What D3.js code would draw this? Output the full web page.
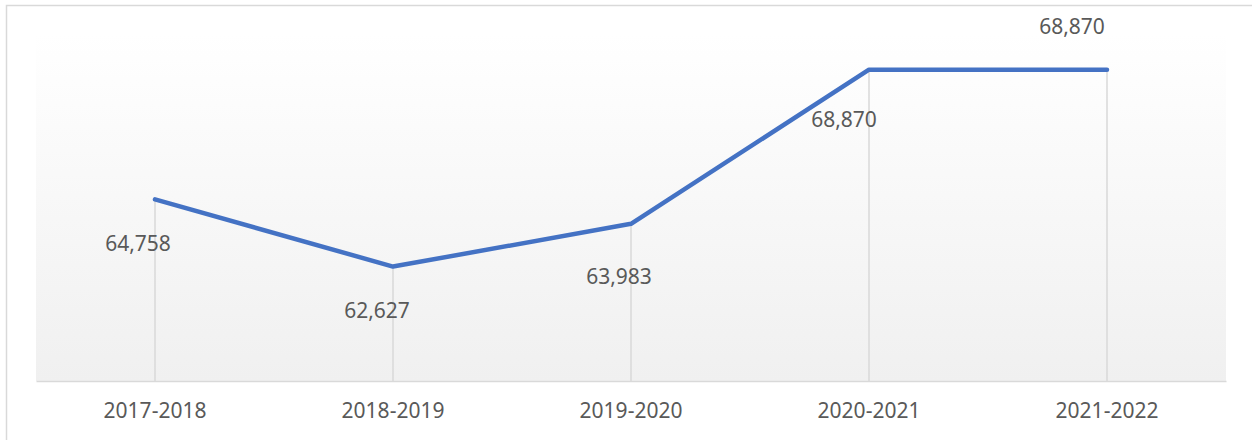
<!DOCTYPE html>
<html>
<head>
<meta charset="utf-8">
<script src="https://cdn.jsdelivr.net/npm/d3@7"></script>
<style>
  body { margin: 0; background: #fff; }
  svg { display: block; }
</style>
</head>
<body>
<svg id="chart"></svg>
<script>
// Data
const years = ["2017-2018", "2018-2019", "2019-2020", "2020-2021", "2021-2022"];
const counts = [64758, 62627, 63983, 68870, 68870];
const yDomain = [59000, 70000];

// Label offsets (px) relative to each point
const labelDx = [-17, -16, -12, -25, -35];
const labelDy = [44, 44, 53, 50, -43];

const width = 1252, height = 440;
const margin = { top: 34, right: 26, bottom: 59, left: 36 };

const svg = d3.select("#chart")
  .attr("width", width)
  .attr("height", height);

// Outer chart border
svg.append("rect")
  .attr("x", 6.5).attr("y", 5.5)
  .attr("width", width + 10).attr("height", height + 10)
  .attr("fill", "none")
  .attr("stroke", "#d9d9d9")
  .attr("stroke-width", 1.5);

// Gradient for plot area
const defs = svg.append("defs");
const grad = defs.append("linearGradient")
  .attr("id", "plotGrad")
  .attr("x1", 0).attr("y1", 0).attr("x2", 0).attr("y2", 1);
grad.append("stop").attr("offset", "0%").attr("stop-color", "#ffffff");
grad.append("stop").attr("offset", "100%").attr("stop-color", "#f0f0f0");

const x = d3.scaleBand()
  .domain(years)
  .range([margin.left, width - margin.right]);

const y = d3.scaleLinear()
  .domain(yDomain)
  .range([height - margin.bottom, margin.top]);

const cx = d => x(d) + x.bandwidth() / 2;

// Plot area background
svg.append("rect")
  .attr("x", margin.left)
  .attr("y", margin.top)
  .attr("width", width - margin.left - margin.right)
  .attr("height", height - margin.top - margin.bottom)
  .attr("fill", "url(#plotGrad)");

// Drop lines from each point down to the axis
svg.append("g")
  .selectAll("line")
  .data(counts)
  .enter().append("line")
  .attr("x1", (d, i) => cx(years[i]))
  .attr("x2", (d, i) => cx(years[i]))
  .attr("y1", d => y(d))
  .attr("y2", y(yDomain[0]))
  .attr("stroke", "#d9d9d9")
  .attr("stroke-width", 1.5);

// X axis
const xAxis = svg.append("g")
  .attr("transform", `translate(0,${y(yDomain[0])})`)
  .call(d3.axisBottom(x).tickSize(0).tickPadding(22));
xAxis.select(".domain")
  .attr("stroke", "#d9d9d9")
  .attr("stroke-width", 1.5);
xAxis.selectAll("text")
  .attr("fill", "#595959")
  .style("font-family", "'Noto Sans', sans-serif")
  .style("font-size", "21px");

// Line
const line = d3.line()
  .x((d, i) => cx(years[i]))
  .y(d => y(d));

svg.append("path")
  .datum(counts)
  .attr("d", line)
  .attr("fill", "none")
  .attr("stroke", "#4472c4")
  .attr("stroke-width", 4.5)
  .attr("stroke-linejoin", "round")
  .attr("stroke-linecap", "round");

// Data labels
svg.append("g")
  .selectAll("text")
  .data(counts)
  .enter().append("text")
  .attr("x", (d, i) => cx(years[i]) + labelDx[i])
  .attr("y", (d, i) => y(d) + labelDy[i])
  .attr("dy", "0.35em")
  .attr("text-anchor", "middle")
  .attr("fill", "#595959")
  .style("font-family", "'Noto Sans', sans-serif")
  .style("font-size", "21px")
  .text(d => d3.format(",")(d));
</script>
</body>
</html>
